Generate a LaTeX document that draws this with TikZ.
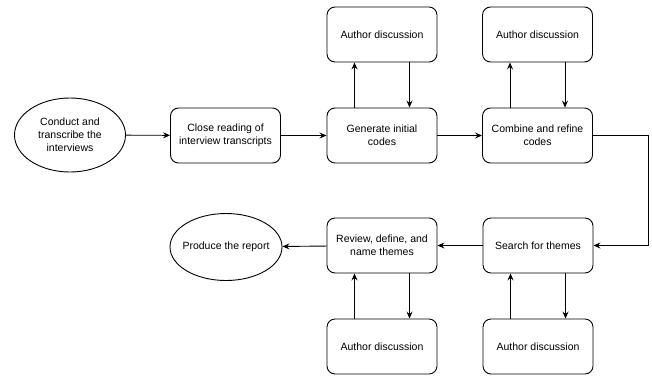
\documentclass[tikz,border=0pt]{standalone}
\usepackage{fontspec}
\setmainfont{Liberation Sans}
\usetikzlibrary{shapes.geometric,arrows.meta}

\tikzset{
	stepbox/.style={draw, rounded corners=8pt, minimum width=110pt, minimum height=55pt, align=center, inner sep=2pt},
	endpoint/.style={draw, ellipse, align=center, inner sep=0pt},
	flow/.style={-{Stealth[length=7pt,width=6pt,inset=2.5pt]}},
}

\begin{document}
\begin{tikzpicture}[x=1pt, y=-1pt, line width=0.9pt, font=\fontsize{10.5}{13}\selectfont]
		\useasboundingbox (0,0) rectangle (652,375);
		% top row
		\node[endpoint, minimum width=111pt, minimum height=74pt] (conduct) at (70,135) {Conduct and\\transcribe the\\interviews};
		\node[stepbox] (close) at (225.5,135.5) {Close reading of\\interview transcripts};
		\node[stepbox] (generate) at (382,135.5) {Generate initial\\codes};
		\node[stepbox] (combine) at (537.5,135.5) {Combine and refine\\codes};
		\node[stepbox] (discA) at (382,34.5) {Author discussion};
		\node[stepbox] (discB) at (537.5,34.5) {Author discussion};
		% bottom row
		\node[stepbox] (search) at (538,245.5) {Search for themes};
		\node[stepbox] (review) at (382,245.5) {Review, define, and\\name themes};
		\node[endpoint, inner xsep=-15pt, minimum width=112pt, minimum height=67pt] (report) at (226,247) {Produce the report};
		\node[stepbox] (discC) at (382,346.5) {Author discussion};
		\node[stepbox] (discD) at (538,346.5) {Author discussion};
		\coordinate (bend) at (648,135.5);

		\draw[flow] (conduct) -- (close);
		\draw[flow] (close) -- (generate);
		\draw[flow] (generate) -- (combine);
		\draw[flow] (combine) -- (bend) |- (search);
		\draw[flow] (search) -- (review);
		\draw[flow] (review) -- (report);
		\foreach \a/\b in {generate/discA, combine/discB} {
			\draw[flow] ([xshift=-27.5pt]\a.north) -- ([xshift=-27.5pt]\b.south);
			\draw[flow] ([xshift=27.5pt]\b.south) -- ([xshift=27.5pt]\a.north);
		}
		\foreach \a/\b in {review/discC, search/discD} {
			\draw[flow] ([xshift=-27.5pt]\b.north) -- ([xshift=-27.5pt]\a.south);
			\draw[flow] ([xshift=27.5pt]\a.south) -- ([xshift=27.5pt]\b.north);
		}
	\end{tikzpicture}
\end{document}
